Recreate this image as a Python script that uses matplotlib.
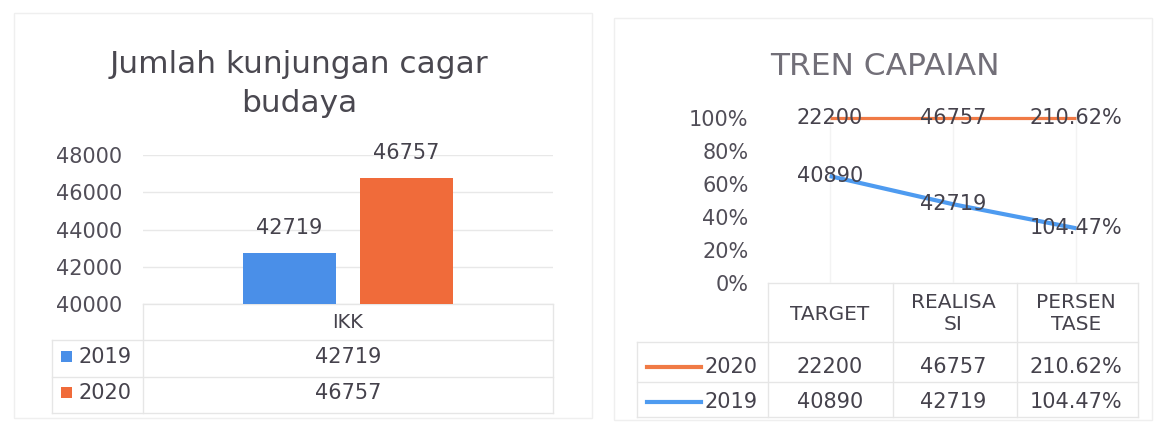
import matplotlib
matplotlib.use("Agg")
import matplotlib.pyplot as plt
from matplotlib.patches import Rectangle
from matplotlib.lines import Line2D
from matplotlib import transforms

# ---------------- data ----------------
bar_title = "Jumlah kunjungan cagar\nbudaya"
bar_category = "IKK"
bar_years = ["2019", "2020"]
bar_values = [42719, 46757]
bar_yticks = [40000, 42000, 44000, 46000, 48000]

line_title = "TREN CAPAIAN"
line_categories = ["TARGET", "REALISA\nSI", "PERSEN\nTASE"]
line_years = ["2020", "2019"]
values_2020 = [22200, 46757, 210.62]
values_2019 = [40890, 42719, 104.47]
value_formats = ["{:.0f}", "{:.0f}", "{:.2f}%"]
pct_ticks = [0, 0.2, 0.4, 0.6, 0.8, 1.0]

# ---------------- style ----------------
BLUE = "#4A8FE8"
ORANGE = "#F06B3A"
LBLUE = "#4E9BF0"
LORANGE = "#F07A45"
TXT = "#45424c"
TICK = "#514e58"
GRID = "#e8e8e8"
TBL = "#e6e6e6"
plt.rcParams["font.family"] = ["DejaVu Sans"]

W, H = 1158, 425
fig = plt.figure(figsize=(W / 100, H / 100), dpi=100)


def box(l, t, r, b):
    return [l / W, 1 - b / H, (r - l) / W, (b - t) / H]


ov = fig.add_axes([0, 0, 1, 1], zorder=0)
ov.set_xlim(0, W)
ov.set_ylim(H, 0)
ov.axis("off")

# panel frames
ov.add_patch(Rectangle((14, 13), 578, 405, fill=False, ec="#efefef", lw=1))
ov.add_patch(Rectangle((614, 18), 538, 402, fill=False, ec="#efefef", lw=1))


def hline(x0, x1, y):
    ov.add_line(Line2D([x0, x1], [y, y], color=TBL, lw=1))


def vline(x, y0, y1):
    ov.add_line(Line2D([x, x], [y0, y1], color=TBL, lw=1))


# ---------------- left: bar chart ----------------
ov.text(299, 84, bar_title, ha="center", va="center", fontsize=22.5,
        color="#4a4850", linespacing=1.42, multialignment="center")

ax1 = fig.add_axes(box(143, 155, 553, 304), zorder=2)
ax1.patch.set_alpha(0)
ax1.set_xlim(-0.5, 0.5)
ax1.set_ylim(bar_yticks[0], bar_yticks[-1])
bw = 0.227
offs = [-0.1425, 0.1425]
for x, v, c in zip(offs, bar_values, [BLUE, ORANGE]):
    ax1.bar(x, v, width=bw, color=c, zorder=3)
    ax1.annotate(f"{v}", (x, v), xytext=(0, 25), textcoords="offset pixels",
                 ha="center", va="center", fontsize=15, color=TXT)
ax1.set_yticks(bar_yticks)
ax1.set_yticklabels([str(t) for t in bar_yticks])
ax1.set_xticks([])
ax1.yaxis.grid(True, color=GRID, lw=1)
ax1.set_axisbelow(True)
for s in ax1.spines.values():
    s.set_visible(False)
ax1.tick_params(axis="y", length=0, pad=15, labelsize=15, labelcolor=TICK)

# left data table
hline(143, 553, 304)
hline(52, 553, 340)
hline(52, 553, 377)
hline(52, 553, 413)
vline(52, 340, 413)
vline(143, 304, 413)
vline(553, 304, 413)
tr1 = transforms.blended_transform_factory(ax1.transData, ov.transData)
ov.text(0, 323, bar_category, transform=tr1, ha="center", va="center",
        fontsize=14, color=TXT)
rows_y = [357, 393]
for yr, v, c, y in zip(bar_years, bar_values, [BLUE, ORANGE], rows_y):
    ov.add_patch(Rectangle((61, y - 6), 11, 11, color=c, lw=0))
    ov.text(79, y, yr, ha="left", va="center", fontsize=15, color=TXT)
    ov.text(0, y, f"{v}", transform=tr1, ha="center", va="center",
            fontsize=15, color=TXT)

# ---------------- right: 100% stacked line chart ----------------
ov.text(885, 66, line_title, ha="center", va="center", fontsize=22.5,
        color="#726f78")

share_2019 = [a / (a + b) for a, b in zip(values_2019, values_2020)]
top_2020 = [(a + b) / (a + b) for a, b in zip(values_2019, values_2020)]
xs = list(range(len(line_categories)))

ax2 = fig.add_axes(box(768, 118, 1138, 283), zorder=2)
ax2.patch.set_alpha(0)
ax2.set_xlim(-0.5, len(xs) - 0.5)
ax2.set_ylim(0, 1)
ax2.plot(xs, top_2020, color=LORANGE, lw=2.3, clip_on=False, zorder=3,
         solid_capstyle="butt")
ax2.plot(xs, share_2019, color=LBLUE, lw=3.0, clip_on=False, zorder=3,
         solid_capstyle="butt")
for x, y, v, f in zip(xs, top_2020, values_2020, value_formats):
    ax2.text(x, y, f.format(v), ha="center", va="center", fontsize=15,
             color=TXT, zorder=5)
for x, y, v, f in zip(xs, share_2019, values_2019, value_formats):
    ax2.text(x, y, f.format(v), ha="center", va="center", fontsize=15,
             color=TXT, zorder=5)
ax2.set_yticks(pct_ticks)
ax2.set_yticklabels([f"{int(round(t * 100))}%" for t in pct_ticks])
ax2.set_xticks(xs)
ax2.set_xticklabels([])
ax2.xaxis.grid(True, color="#f3f3f3", lw=1)
ax2.set_axisbelow(True)
for s in ax2.spines.values():
    s.set_visible(False)
ax2.tick_params(axis="both", length=0, labelsize=15, labelcolor=TICK)
ax2.tick_params(axis="y", pad=14)

# right data table
hline(768, 1138, 283)
hline(637, 1138, 342)
hline(637, 1138, 382)
hline(637, 1138, 417)
for x in [768, 893, 1017, 1138]:
    vline(x, 283, 417)
vline(637, 342, 417)
tr2 = transforms.blended_transform_factory(ax2.transData, ov.transData)
for x, lab in zip(xs, line_categories):
    ov.text(x, 314, lab, transform=tr2, ha="center", va="center",
            fontsize=14.5, color=TXT, linespacing=1.2,
            multialignment="center")
row_y = {"2020": 367, "2019": 402}
series = {"2020": (values_2020, LORANGE), "2019": (values_2019, LBLUE)}
for yr in line_years:
    vals, c = series[yr]
    y = row_y[yr]
    ov.add_line(Line2D([647, 701], [y, y], color=c, lw=3))
    ov.text(704, y, yr, ha="left", va="center", fontsize=15, color=TXT)
    for x, v, f in zip(xs, vals, value_formats):
        ov.text(x, y, f.format(v), transform=tr2, ha="center", va="center",
                fontsize=15, color=TXT)

fig.savefig("out.png", dpi=100)
